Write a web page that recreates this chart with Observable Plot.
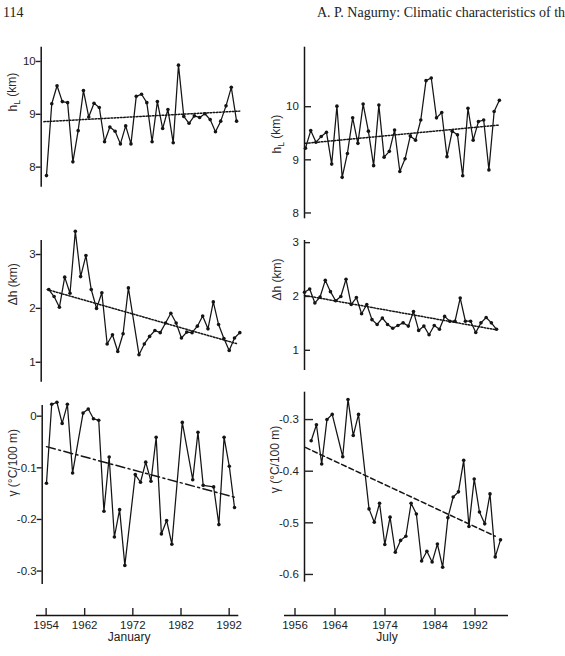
<!DOCTYPE html>
<html><head><meta charset="utf-8">
<script src="https://cdn.jsdelivr.net/npm/d3@7"></script>
<script src="https://cdn.jsdelivr.net/npm/@observablehq/plot@0.6"></script>
<style>
html,body{margin:0;padding:0;background:#fff;}
#wrap{position:relative;width:565px;height:656px;overflow:hidden;background:#fff;}
#wrap > svg, #wrap > figure{position:absolute;margin:0;}
.hdr{position:absolute;top:6px;font-family:"Liberation Serif","Times New Roman",serif;font-size:14px;line-height:14px;color:#222;white-space:nowrap;}
</style></head><body><div id="wrap"></div>
<script>
// ---------- data ----------
const janYears = [1954,1955,1956,1957,1958,1959,1960,1961,1962,1963,1964,1965,1966,1967,1968,1969,1970,1971,1972,1973,1974,1975,1976,1977,1978,1979,1980,1981,1982,1983,1984,1985,1986,1987,1988,1989,1990];
const julYears = [1954,1955,1956,1957,1958,1959,1960,1961,1962,1963,1964,1965,1966,1967,1968,1969,1970,1971,1972,1973,1974,1975,1976,1977,1978,1979,1980,1981,1982,1983,1984,1985,1986,1987,1988,1989,1990,1991];

const janHL = [7.84,9.20,9.54,9.24,9.22,8.10,8.69,9.45,8.95,9.21,9.13,8.48,8.76,8.68,8.44,8.78,8.44,9.34,9.38,9.22,8.48,9.24,8.73,9.09,8.46,9.93,8.96,8.83,8.97,8.94,9.01,8.90,8.67,8.87,9.16,9.51,8.87];
const janDH = [2.35,2.22,2.02,2.58,2.28,3.43,2.59,2.98,2.35,2.00,2.29,1.34,1.51,1.20,1.53,2.38,null,1.14,1.34,1.48,1.59,1.55,1.73,1.91,1.73,1.45,1.56,1.55,1.67,1.86,1.62,2.12,1.70,1.44,1.22,1.45,1.55];
const janGamma = [-0.130,0.023,0.027,-0.014,0.023,-0.110,null,0.006,0.014,-0.005,-0.008,-0.184,-0.079,-0.234,-0.181,-0.289,null,-0.113,-0.128,-0.089,-0.126,-0.041,-0.228,-0.202,-0.248,null,-0.012,null,-0.123,-0.031,-0.134,null,-0.137,-0.210,-0.041,-0.097,-0.177];

const julHL = [9.22,9.55,9.33,9.44,9.52,8.92,10.01,8.67,9.12,9.79,9.31,10.05,9.54,8.89,10.03,9.05,9.16,9.56,8.78,9.02,9.45,9.37,9.75,10.49,10.54,9.79,9.89,9.06,9.54,9.47,8.70,9.97,9.37,9.72,9.75,8.81,9.91,10.12];
const julDH = [2.08,2.14,1.88,1.99,2.30,2.09,1.92,2.00,2.32,1.85,1.98,1.68,1.85,1.57,1.48,1.60,1.48,1.41,1.46,1.51,1.45,1.72,1.37,1.45,1.29,1.46,1.39,1.63,1.54,1.54,1.97,1.54,1.54,1.33,1.51,1.61,1.51,1.39];
const julGamma = [null,-0.341,-0.310,-0.386,-0.300,-0.290,null,-0.372,-0.261,-0.331,-0.290,null,-0.473,-0.499,-0.462,-0.542,-0.489,-0.557,-0.534,-0.526,-0.462,-0.483,-0.574,-0.555,-0.576,-0.541,-0.586,-0.490,-0.450,-0.440,-0.379,-0.507,-0.415,-0.479,-0.502,-0.444,-0.566,-0.533];

// linear trends (start/end year, value)
const janHLTrend = [[1953.5, 8.86], [1990.6, 9.06]];
const janDHTrend = [[1953.7, 2.35], [1989.6, 1.34]];
const janGammaTrend = [[1954.0, -0.059], [1990.4, -0.158]];
const julHLTrend = [[1954.0, 9.31], [1991.0, 9.655]];
const julDHTrend = [[1954.0, 2.02], [1991.0, 1.38]];
const julGammaTrend = [[1953.9, -0.354], [1990.0, -0.526]];

// ticks and labels
const hlTicks = [8, 9, 10];
const hlTickLabels = ["8", "9", "10"];
const dhTicks = [1, 2, 3];
const dhTickLabels = ["1", "2", "3"];
const janGammaTicks = [0, -0.1, -0.2, -0.3];
const janGammaTickLabels = ["0", "-0.1", "-0.2", "-0.3"];
const julGammaTicks = [-0.3, -0.4, -0.5, -0.6];
const julGammaTickLabels = ["-0.3", "-0.4", "-0.5", "-0.6"];
const janYearTicks = [1954, 1962, 1972, 1982, 1992];
const julYearTicks = [1956, 1964, 1974, 1984, 1992];
const yLabels = ["h_L (km)", "\u0394h (km)", "\u03b3 (\u00b0C/100 m)"];
const monthNames = ["January", "July"];
const pageNumber = "114";
const runningHead = "A. P. Nagurny: Climatic characteristics of th";

// ---------- drawing ----------
const wrap = document.getElementById("wrap");
const INK = "#141414";
const baseStyle = {background: "none", overflow: "visible", fontFamily: "Liberation Sans, Arial, sans-serif", color: "#222"};

function rows(years, values) {
  return years.map((year, i) => ({year, value: values[i]})).filter(d => d.value != null);
}

function place(el, left, top) {
  el.style.left = left + "px";
  el.style.top = top + "px";
  wrap.appendChild(el);
}

function panel(c) {
  const data = rows(c.years, c.values);
  const trend = c.trend.map(([year, value]) => ({year, value}));
  const svg = Plot.plot({
    width: c.width, height: c.height,
    marginLeft: c.ml, marginRight: c.mr, marginTop: c.mt, marginBottom: c.mb,
    style: baseStyle,
    x: {domain: c.xd, axis: null},
    y: {domain: c.yd},
    marks: [
      Plot.ruleX([c.xd[0]], {stroke: INK, strokeWidth: 1.5}),
      Plot.axisY(c.ticks, {anchor: "left", tickSize: c.tickSize, tickPadding: c.tickPadding,
        tickFormat: d => c.tickLabels[c.ticks.indexOf(d)], label: null, fontSize: 11.5, strokeWidth: 1.4}),
      Plot.line(trend, {x: "year", y: "value", stroke: INK, strokeWidth: 1.5, strokeDasharray: c.dash}),
      Plot.line(data, {x: "year", y: "value", stroke: INK, strokeWidth: 1.25}),
      Plot.dot(data, {x: "year", y: "value", r: 1.8, fill: INK}),
      Plot.text([c.label], {frameAnchor: "left", rotate: -90, dx: c.ldx, dy: c.ldy, fontSize: 12, fill: "#2a2a2a"})
    ]
  });
  place(svg, c.left, c.top);
  d3.select(svg).selectAll("text").filter(function() { return this.textContent === "h_L (km)"; })
    .each(function() {
      const t = d3.select(this);
      t.text("h");
      t.append("tspan").attr("font-size", "0.72em").attr("dy", "0.35em").text("L");
      t.append("tspan").attr("dy", "-0.35em").text(" (km)");
    });
}

function yearAxis(c) {
  const svg = Plot.plot({
    width: c.width, height: 66,
    marginLeft: c.ml, marginRight: c.mr, marginTop: 10, marginBottom: 41,
    style: baseStyle,
    x: {domain: c.xd},
    y: {domain: [0, 1], axis: null},
    marks: [
      Plot.ruleY([0], {stroke: INK, strokeWidth: 1.4}),
      Plot.axisX(c.ticks, {anchor: "bottom", tickSize: -7, tickPadding: 12, tickFormat: d => String(d), label: null, fontSize: 11.5, strokeWidth: 1.4}),
      Plot.text([c.name], {frameAnchor: "bottom", dx: c.ndx, dy: 25, fontSize: 12, fill: "#222"})
    ]
  });
  place(svg, c.left, 590);
}

// January column
panel({left: 0, top: 0, width: 280, height: 200, ml: 40.7, mr: 35, mt: 46.7, mb: 13.3,
  xd: [1953.0, 1991.69], yd: [7.62, 10.27], years: janYears, values: janHL, trend: janHLTrend,
  dash: "1.6,1.6", ticks: hlTicks, tickLabels: hlTickLabels, tickSize: 5, tickPadding: 0.5,
  label: yLabels[0], ldx: -28, ldy: -5.7});
panel({left: 0, top: 200, width: 280, height: 190, ml: 40.7, mr: 35, mt: 40, mb: 8.3,
  xd: [1952.57, 1991.07], yd: [0.63, 3.26], years: janYears, values: janDH, trend: janDHTrend,
  dash: "1.6,1.6", ticks: dhTicks, tickLabels: dhTickLabels, tickSize: 5, tickPadding: 0.5,
  label: yLabels[1], ldx: -28.5, ldy: -6});
panel({left: 0, top: 390, width: 280, height: 200, ml: 41.7, mr: 35, mt: 15, mb: 6,
  xd: [1953.18, 1992.1], yd: [-0.326, 0.0207], years: janYears, values: janGamma, trend: janGammaTrend,
  dash: "9,3.5,2,3.5", ticks: janGammaTicks, tickLabels: janGammaTickLabels, tickSize: 5, tickPadding: 0.5,
  label: yLabels[2], ldx: -29.5, ldy: 1.5});

// July column
panel({left: 260, top: 0, width: 305, height: 230, ml: 44, mr: 55, mt: 46.7, mb: 11.7,
  xd: [1953.81, 1993.12], yd: [7.89, 11.12], years: julYears, values: julHL, trend: julHLTrend,
  dash: "1.6,1.6", ticks: hlTicks, tickLabels: hlTickLabels, tickSize: -7, tickPadding: 12.7,
  label: yLabels[0], ldx: -27, ldy: 20.5});
panel({left: 260, top: 230, width: 305, height: 150, ml: 44, mr: 55, mt: 10, mb: 10,
  xd: [1954.0, 1993.69], yd: [0.625, 3.04], years: julYears, values: julDH, trend: julDHTrend,
  dash: "1.6,1.6", ticks: dhTicks, tickLabels: dhTickLabels, tickSize: -6, tickPadding: 11.7,
  label: yLabels[1], ldx: -27, ldy: -5});
panel({left: 260, top: 385, width: 305, height: 200, ml: 44, mr: 55, mt: 6.7, mb: 3.3,
  xd: [1953.73, 1992.9], yd: [-0.615, -0.247], years: julYears, values: julGamma, trend: julGammaTrend,
  dash: "5,3", ticks: julGammaTicks, tickLabels: julGammaTickLabels, tickSize: -9, tickPadding: 14.7,
  label: yLabels[2], ldx: -29, ldy: 6});

// year axes
yearAxis({left: 0, width: 280, ml: 36, mr: 41.7, xd: [1952, 1994], ticks: janYearTicks, name: monthNames[0], ndx: -8.5});
yearAxis({left: 260, width: 305, ml: 24, mr: 57, xd: [1953.9, 1998.7], ticks: julYearTicks, name: monthNames[1], ndx: -9.5});

// running head
const h1 = document.createElement("div"); h1.className = "hdr"; h1.style.left = "3px"; h1.textContent = pageNumber; wrap.appendChild(h1);
const h2 = document.createElement("div"); h2.className = "hdr"; h2.style.left = "317px"; h2.textContent = runningHead; wrap.appendChild(h2);
</script></body></html>
